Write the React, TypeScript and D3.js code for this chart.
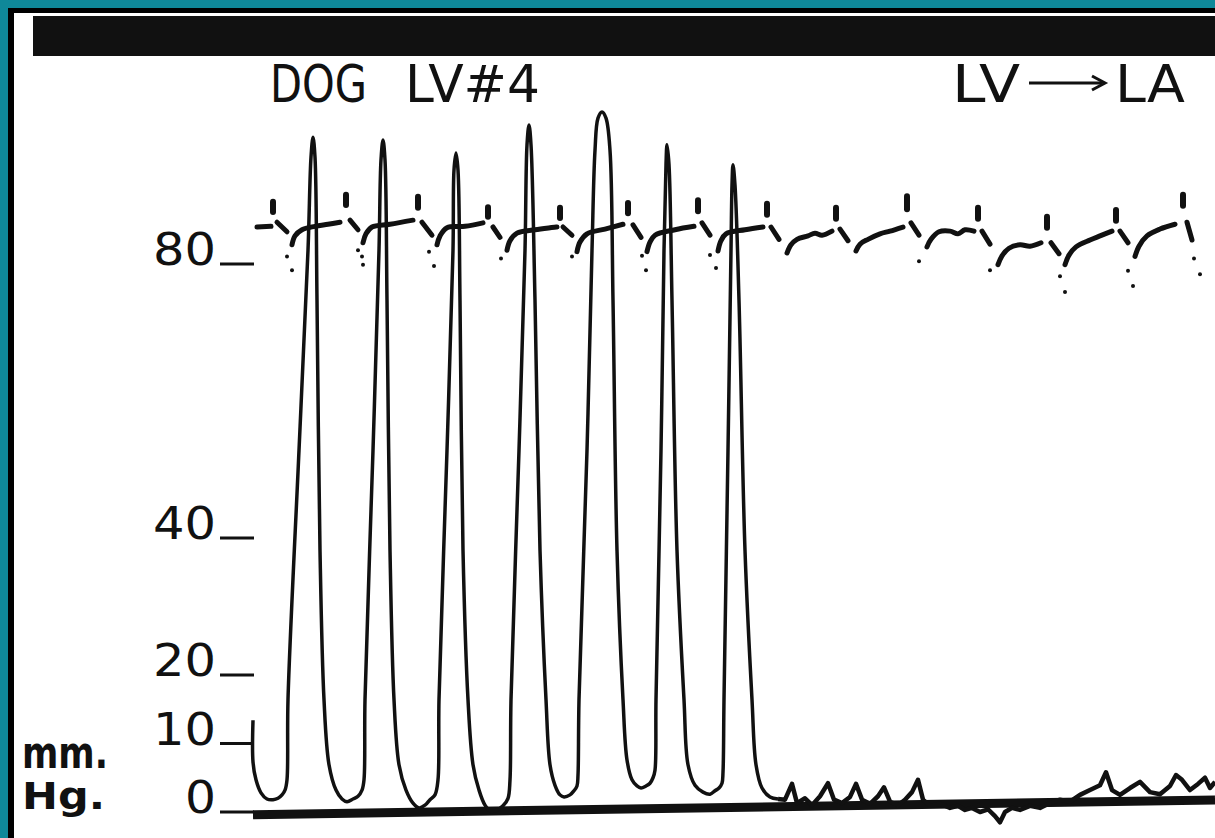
import React from 'react';
import * as d3 from 'd3';

type Pt = [number, number];

// y axis ticks (mm Hg)
const yTicks: number[] = [0, 10, 20, 40, 80];

// left-ventricular pressure trace: [time s, mm Hg]
const lvTrace: Pt[] = [
  [0.00, 13.4], [0.00, 7.3], [0.03, 4.7], [0.08, 2.8], [0.14, 1.9], [0.20, 1.8], [0.25, 2.0], [0.29, 2.5], [0.32, 3.2], [0.34, 4.7],
  // beat 1
  [0.35, 16.4], [0.46, 52.8], [0.55, 82.0], [0.58, 95.6], [0.60, 98.5], [0.62, 95.6], [0.64, 74.7], [0.67, 38.2], [0.71, 16.4],
  [0.76, 6.9], [0.83, 3.2], [0.89, 1.9], [0.94, 1.5], [1.00, 1.9], [1.05, 2.3], [1.09, 3.2], [1.11, 4.7],
  // beat 2
  [1.12, 16.4], [1.20, 52.8], [1.26, 82.0], [1.28, 95.2], [1.30, 98.1], [1.32, 95.2], [1.34, 74.7], [1.37, 38.2], [1.41, 16.4],
  [1.46, 6.9], [1.53, 3.2], [1.60, 1.3], [1.66, 0.6], [1.72, 1.0], [1.77, 1.8], [1.82, 2.5], [1.85, 4.7],
  // beat 3
  [1.86, 16.4], [1.94, 52.8], [2.00, 82.0], [2.01, 93.7], [2.03, 96.2], [2.05, 93.7], [2.07, 74.7], [2.10, 38.2], [2.15, 16.4],
  [2.20, 6.9], [2.26, 3.2], [2.32, 1.0], [2.38, 0.1], [2.44, 0.3], [2.50, 0.9], [2.55, 2.0], [2.57, 4.7],
  // beat 4
  [2.58, 16.4], [2.66, 52.8], [2.72, 82.0], [2.74, 97.4], [2.76, 100.3], [2.78, 97.4], [2.82, 74.7], [2.87, 38.2], [2.93, 16.4],
  [2.97, 6.9], [3.02, 3.9], [3.07, 2.5], [3.11, 2.2], [3.17, 2.5], [3.21, 3.1], [3.24, 3.8], [3.25, 5.4],
  // beat 5
  [3.26, 16.4], [3.34, 52.8], [3.39, 82.0], [3.42, 96.6], [3.45, 101.3], [3.49, 102.2], [3.53, 101.3], [3.57, 96.6], [3.60, 74.7],
  [3.64, 38.2], [3.70, 16.4], [3.74, 7.6], [3.79, 4.7], [3.84, 3.8], [3.88, 3.5], [3.93, 3.8], [3.97, 4.2], [4.00, 5.0], [4.02, 6.1],
  // beat 6
  [4.03, 16.4], [4.08, 52.8], [4.11, 82.0], [4.13, 94.5], [4.14, 97.4], [4.16, 94.5], [4.19, 74.7], [4.24, 38.2], [4.31, 16.4],
  [4.35, 6.9], [4.42, 3.9], [4.50, 2.9], [4.57, 2.6], [4.62, 3.1], [4.66, 3.5], [4.69, 4.2], [4.70, 5.8],
  // beat 7
  [4.71, 16.4], [4.75, 52.8], [4.78, 82.0], [4.79, 91.5], [4.80, 94.5], [4.82, 91.5], [4.86, 74.7], [4.92, 38.2], [4.99, 16.4],
  [5.03, 6.9], [5.09, 3.5], [5.17, 2.2], [5.25, 1.9],
];

// left-atrial pressure after catheter withdrawal LV -> LA
const laTrace: Pt[] = [
  [5.25, 1.9], [5.32, 1.8], [5.39, 4.1], [5.44, 1.3], [5.52, 2.0], [5.59, 1.0], [5.67, 2.3], [5.75, 4.2], [5.81, 1.8], [5.89, 1.3],
  [5.97, 2.2], [6.03, 4.1], [6.09, 1.8], [6.17, 1.2], [6.25, 2.3], [6.31, 3.6], [6.37, 1.5], [6.45, 1.0], [6.52, 1.8], [6.59, 2.9],
  [6.65, 4.7], [6.70, 1.8], [6.77, 0.9], [6.87, 1.2], [6.97, 0.6], [7.05, 0.9], [7.12, 0.3], [7.19, 0.6], [7.27, 0.0], [7.35, 0.4],
  [7.42, -0.6], [7.47, -1.5], [7.52, 0.0], [7.59, 0.6], [7.67, 0.3], [7.77, 0.9], [7.87, 0.6], [7.97, 1.3], [8.07, 1.8], [8.17, 1.5],
  [8.27, 2.5], [8.37, 3.2], [8.47, 3.9], [8.53, 5.8], [8.59, 3.2], [8.67, 2.5], [8.77, 3.5], [8.87, 4.4], [8.97, 2.9], [9.07, 2.6],
  [9.17, 3.8], [9.23, 5.4], [9.29, 4.7], [9.37, 3.2], [9.45, 4.1], [9.52, 5.0], [9.57, 3.5], [9.62, 4.4],
];

// recorded zero reference line
const zeroLine: Pt[] = [[0, -0.4], [9.62, 1.75]];

// arterial pressure trace, drawn in broken pieces
const aorticSegments: Pt[][] = [
  [[0.04, 85.4], [0.18, 85.5]],
  [[0.24, 86.1], [0.34, 84.7]],
  [[0.39, 82.8], [0.42, 84.1], [0.49, 85.0], [0.62, 85.5], [0.75, 85.8], [0.87, 86.1]],
  [[0.97, 86.4], [1.05, 85.0]],
  [[1.10, 83.1], [1.13, 84.4], [1.19, 85.4], [1.37, 85.8], [1.60, 86.4]],
  [[1.69, 86.1], [1.79, 84.2]],
  [[1.84, 82.8], [1.87, 84.1], [1.94, 85.3], [2.12, 85.5], [2.30, 86.0]],
  [[2.40, 85.4], [2.47, 83.9]],
  [[2.54, 82.0], [2.57, 83.4], [2.64, 84.5], [2.82, 85.0], [3.04, 85.4]],
  [[3.10, 85.4], [3.19, 84.2]],
  [[3.24, 81.8], [3.27, 83.2], [3.34, 84.4], [3.52, 85.1], [3.70, 85.8]],
  [[3.80, 85.7], [3.88, 83.9]],
  [[3.94, 81.8], [3.97, 83.2], [4.02, 84.2], [4.22, 85.0], [4.41, 85.5]],
  [[4.49, 86.0], [4.57, 84.2]],
  [[4.65, 81.9], [4.68, 83.4], [4.73, 84.4], [4.92, 85.0], [5.10, 85.4]],
  [[5.18, 85.4], [5.26, 83.6]],
  [[5.34, 81.6], [5.38, 82.8], [5.44, 83.6], [5.55, 84.1], [5.62, 84.5], [5.69, 84.2], [5.79, 84.8]],
  [[5.87, 85.1], [5.95, 83.4]],
  [[6.03, 81.9], [6.07, 82.9], [6.15, 83.6], [6.27, 84.4], [6.37, 84.8], [6.50, 85.4]],
  [[6.58, 86.0], [6.66, 84.2]],
  [[6.74, 82.5], [6.78, 83.6], [6.86, 84.7], [6.97, 84.8], [7.05, 84.4], [7.12, 85.0], [7.21, 84.8]],
  [[7.29, 84.8], [7.37, 82.9]],
  [[7.45, 79.9], [7.49, 81.2], [7.56, 82.3], [7.67, 82.8], [7.77, 82.6], [7.88, 83.1]],
  [[7.98, 83.1], [8.06, 81.5]],
  [[8.12, 79.9], [8.16, 81.3], [8.23, 82.5], [8.37, 83.5], [8.47, 84.1], [8.59, 84.8]],
  [[8.67, 84.8], [8.75, 83.1]],
  [[8.82, 81.1], [8.86, 82.6], [8.94, 84.1], [9.07, 85.1], [9.22, 85.8]],
  [[9.34, 86.1], [9.39, 83.5]],
];

// dicrotic marks above the arterial trace: [time, top, bottom]
const aorticMarks: [number, number, number][] = [
  [0.20, 89.1, 87.6], [0.93, 90.1, 88.6], [1.65, 89.8, 88.2], [2.35, 88.3, 86.9], [3.07, 88.2, 86.7],
  [3.75, 88.9, 87.4], [4.45, 89.3, 87.7], [5.14, 88.8, 87.2], [5.83, 88.2, 86.6], [6.54, 89.9, 88.0],
  [7.25, 88.2, 86.6], [7.94, 86.9, 85.3], [8.63, 87.9, 86.3], [9.30, 90.1, 88.5],
];

// small timing dots below the arterial trace
const timeDots: Pt[] = [
  [0.34, 81.1], [0.39, 79.1], [1.05, 82.0], [1.09, 81.1], [1.10, 79.9], [1.76, 81.8], [1.81, 79.7], [2.48, 80.8],
  [3.19, 81.1], [3.89, 81.2], [3.93, 79.1], [4.57, 81.3], [4.63, 79.4], [6.66, 80.4], [7.37, 79.1], [8.07, 78.2],
  [8.12, 75.9], [8.75, 79.0], [8.80, 76.8], [9.41, 80.8], [9.47, 78.5],
];

const W = 1215;
const H = 838;
const TEAL = '#0f8899';
const INK = '#111111';

export default function App() {
  const x = d3.scaleLinear().domain([0, 9.62]).range([253, 1215]);
  const y = d3.scaleLinear().domain([0, 80]).range([812, 264]);

  const smooth = d3
    .line<Pt>()
    .x((d) => x(d[0]))
    .y((d) => y(d[1]))
    .curve(d3.curveCatmullRom.alpha(0.5));
  const straight = d3
    .line<Pt>()
    .x((d) => x(d[0]))
    .y((d) => y(d[1]))
    .curve(d3.curveLinear);

  const sans = "'DejaVu Sans', 'Liberation Sans', sans-serif";

  return (
    <svg
      width={W}
      height={H}
      viewBox={`0 0 ${W} ${H}`}
      style={{ position: 'absolute', left: 0, top: 0, display: 'block' }}
    >
      <rect x={0} y={0} width={W} height={H} fill="#ffffff" />
      {/* frame */}
      <rect x={0} y={0} width={W} height={8} fill={TEAL} />
      <rect x={0} y={0} width={8} height={H} fill={TEAL} />
      <rect x={8} y={8} width={W - 8} height={5} fill="#000" />
      <rect x={8} y={8} width={6} height={H - 8} fill="#000" />
      {/* black header bar */}
      <rect x={33} y={16} width={W - 33} height={40} fill={INK} />

      {/* titles */}
      <g fontFamily={sans} fill={INK} fontSize={51}>
        <text x={270} y={102} textLength={97} lengthAdjust="spacingAndGlyphs">DOG</text>
        <text x={405} y={102} textLength={135} lengthAdjust="spacingAndGlyphs">LV#4</text>
        <text x={952} y={102} textLength={68} lengthAdjust="spacingAndGlyphs">LV</text>
        <text x={1115} y={102} textLength={70} lengthAdjust="spacingAndGlyphs">LA</text>
      </g>
      <line x1={1029} y1={83} x2={1102} y2={83} stroke={INK} strokeWidth={3} />
      <polyline points="1092,76 1105,83 1092,90" fill="none" stroke={INK} strokeWidth={3} strokeLinejoin="miter" />

      {/* y axis labels and tick marks */}
      <g fontFamily={sans} fill={INK} fontSize={45}>
        {yTicks.map((v) => {
          const label = String(v);
          const w = label.length === 1 ? 31 : 63;
          return (
            <g key={v}>
              <text x={216 - w} y={y(v) + 1} textLength={w} lengthAdjust="spacingAndGlyphs">{label}</text>
              <line x1={220} x2={254} y1={y(v)} y2={y(v)} stroke={INK} strokeWidth={3} />
            </g>
          );
        })}
      </g>
      <g fontFamily={sans} fontWeight="bold" fill={INK}>
        <text x={22} y={768} fontSize={44} textLength={86} lengthAdjust="spacingAndGlyphs">mm.</text>
        <text x={22} y={809} fontSize={38} textLength={83} lengthAdjust="spacingAndGlyphs">Hg.</text>
      </g>

      {/* zero reference line */}
      <path d={straight(zeroLine) || ''} fill="none" stroke={INK} strokeWidth={9} />

      {/* arterial trace */}
      <g fill="none" stroke={INK} strokeLinecap="round" strokeLinejoin="round">
        {aorticSegments.map((s, i) => (
          <path key={i} d={smooth(s) || ''} strokeWidth={5} />
        ))}
        {aorticMarks.map((m, i) => (
          <line key={i} x1={x(m[0])} x2={x(m[0])} y1={y(m[1])} y2={y(m[2])} strokeWidth={6} />
        ))}
      </g>
      <g fill={INK}>
        {timeDots.map((d, i) => (
          <circle key={i} cx={x(d[0])} cy={y(d[1])} r={2} />
        ))}
      </g>

      {/* ventricular and atrial pressure */}
      <path d={smooth(lvTrace) || ''} fill="none" stroke={INK} strokeWidth={3.5} strokeLinejoin="round" />
      <path d={straight(laTrace) || ''} fill="none" stroke={INK} strokeWidth={4.5} strokeLinejoin="round" />
    </svg>
  );
}
